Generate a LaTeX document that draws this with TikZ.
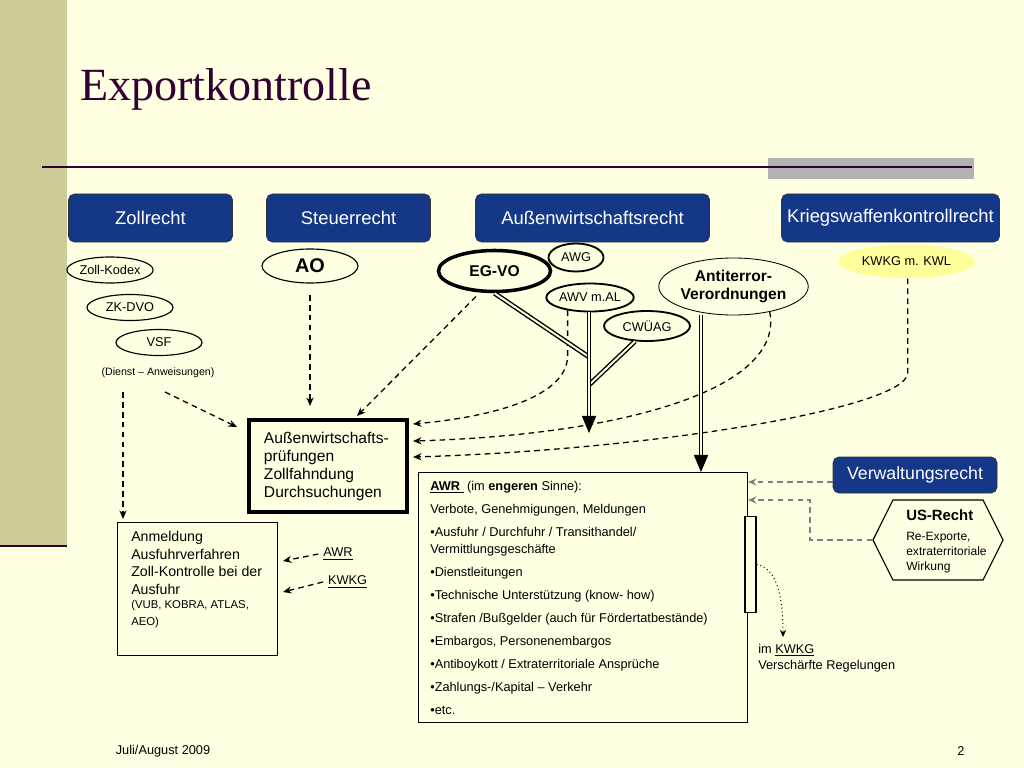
\documentclass[tikz,border=0pt]{standalone}
\usepackage{fontspec}
\setmainfont{Liberation Sans}
\newfontfamily\titlefont{Liberation Serif}
\usetikzlibrary{arrows.meta,calc,shapes.geometric,shapes.symbols}

\definecolor{cream}{RGB}{255,255,225}
\definecolor{stripcol}{RGB}{204,204,153}
\definecolor{titlecol}{RGB}{51,0,51}
\definecolor{hdrblue}{RGB}{20,55,135}
\definecolor{kwyellow}{RGB}{255,255,153}

\newcommand{\pxl}{0.7056pt}
\newcommand{\fsz}[2]{\fontsize{#1}{#2}\selectfont}

\tikzset{
  header/.style={draw=black!80, fill=hdrblue, rounded corners=4pt, text=white,
    font=\fsz{13}{15}, minimum height=48*\pxl, inner sep=0pt},
  law/.style={ellipse, draw, fill=cream, line width=0.8pt, inner sep=0pt, font=\fsz{9}{11}},
  dsh/.style={dash pattern=on 4pt off 3pt, line width=0.9pt, -{Stealth[length=6pt,width=5pt]}},
  gdsh/.style={dsh, draw=gray},
  dbl/.style={double=cream, double distance=1.4pt, line width=1pt},
  bigtip/.style={line width=0.6pt, -{Triangle[length=12pt,width=10pt]}},
  textbox/.style={draw, fill=cream, inner sep=0pt},
}

\begin{document}
\begin{tikzpicture}[x=0.0248cm, y=-0.0248cm]
% slide background
\useasboundingbox (0,0) rectangle (1024,768);
\fill[cream] (0,0) rectangle (1024,768);
\fill[stripcol] (0,0) rectangle (67,545);
\draw[titlecol, line width=1.5pt] (0,546) -- (67,546);
\fill[gray!60] (768,158) rectangle (974,179);
\draw[titlecol, line width=1.6pt] (42,167) -- (972,167);
\node[anchor=west, inner sep=0pt, text=titlecol, font=\titlefont\fsz{32.5}{38}] (title) at (80,89) {Exportkontrolle};

% headers
\node[header, minimum width=164*\pxl] (zoll) at (150.5,218) {Zollrecht};
\node[header, minimum width=164*\pxl] (steuer) at (348.5,218) {Steuerrecht};
\node[header, minimum width=234*\pxl] (awr) at (592.5,218) {Außenwirtschaftsrecht};
\node[header, minimum width=218*\pxl] (kwr) at (890.5,218) {Kriegswaffenkontrollrecht};
\node[header, minimum width=164*\pxl, minimum height=36*\pxl, font=\fsz{12.5}{14}] (verw) at (915,475) {Verwaltungsrecht};

% laws
\node[law, minimum width=86*\pxl, minimum height=26*\pxl] (kodex) at (110,270) {Zoll-Kodex};
\node[law, minimum width=86*\pxl, minimum height=26*\pxl] (zkdvo) at (130,307.5) {ZK-DVO};
\node[law, minimum width=86*\pxl, minimum height=26*\pxl] (vsf) at (159,342.5) {VSF};
\node[font=\fsz{7.5}{9}] (dienst) at (158,373) {(Dienst – Anweisungen)};
\node[law, minimum width=96*\pxl, minimum height=34*\pxl, font=\bfseries\fsz{14}{16}] (ao) at (310,266) {AO};
\node[law, line width=2.5pt, minimum width=112*\pxl, minimum height=41*\pxl, font=\bfseries\fsz{11}{13}] (egvo) at (494.5,271) {EG-VO};
\node[law, line width=1.3pt, minimum width=55*\pxl, minimum height=28*\pxl] (awg) at (576,257.5) {AWG};
\node[law, line width=1.3pt, minimum width=85*\pxl, minimum height=28*\pxl] (awv) at (590,297.5) {AWV m.AL};
\node[law, line width=1.3pt, minimum width=86*\pxl, minimum height=30*\pxl] (cwuag) at (647,326) {CWÜAG};
\node[law, line width=0.6pt, minimum width=139*\pxl, minimum height=57*\pxl, align=center, font=\bfseries\fsz{11}{13.4}] (anti) at (733.5,286.5) {Antiterror-\\Verordnungen};
\node[law, draw=none, fill=kwyellow, minimum width=137*\pxl, minimum height=33*\pxl] (kwkg) at (906.5,261.5) {KWKG m. KWL};

% boxes
\node[textbox, line width=2.8pt, text width=128*\pxl, inner xsep=15*\pxl, minimum height=92*\pxl, align=flush left, font=\fsz{11}{12.7}] (ap) at (328,466)
  {Außenwirtschafts-\\prüfungen\\Zollfahndung\\Durchsuchungen};
\node[textbox, line width=0.7pt, minimum width=160*\pxl, minimum height=133*\pxl, anchor=north west] (anm) at (117,522) {};
\node[anchor=north west, text width=140*\pxl, align=flush left, inner sep=0pt] (anmtxt) at (131,531)
  {\fsz{10}{12.4}Anmeldung\\Ausfuhrverfahren\\Zoll-Kontrolle bei der\\Ausfuhr\par
   \fsz{8}{10.3}(VUB, KOBRA, ATLAS,\\AEO)};
\node[textbox, line width=0.7pt, minimum width=329*\pxl, minimum height=250*\pxl, anchor=north west] (awrbox) at (418,472) {};
\node[anchor=north west, text width=310*\pxl, align=flush left, inner sep=0pt, font=\fsz{9}{16.2}] (awrtxt) at (430,481)
  {\underline{\textbf{AWR}\ }\ (im \textbf{engeren} Sinne):\\
   Verbote, Genehmigungen, Meldungen\\
   •Ausfuhr / Durchfuhr / Transithandel/\\[-4.2pt]
   Vermittlungsgeschäfte\\
   •Dienstleitungen\\
   •Technische Unterstützung (know- how)\\
   •Strafen /Bußgelder (auch für Fördertatbestände)\\
   •Embargos, Personenembargos\\
   •Antiboykott / Extraterritoriale Ansprüche\\
   •Zahlungs-/Kapital – Verkehr\\
   •etc.};
\node[textbox, line width=0.8pt, minimum width=11*\pxl, minimum height=96*\pxl] (bar) at (750.5,564.5) {};
\node[signal, signal to=west and east, signal pointer angle=127, draw, fill=cream, line width=0.8pt,
  minimum width=130*\pxl, minimum height=80*\pxl, inner sep=0pt] (us) at (938,540) {};
\node[anchor=north west, text width=95*\pxl, align=flush left, inner sep=0pt, font=\fsz{8.5}{10.5}] (ustxt) at (906,509)
  {{\fsz{10.5}{10.5}\bfseries US-Recht}\\[4pt]Re-Exporte,\\extraterritoriale\\Wirkung};

% labels
\node[font=\fsz{9}{11}] (lawr) at (338,554) {\underline{AWR}};
\node[font=\fsz{9}{11}] (lkwkg) at (347.5,582) {\underline{KWKG}};
\node[anchor=north west, inner sep=0pt, align=left, font=\fsz{9}{11.2}] (kwnote) at (758,644) {im \underline{KWKG}\\Verschärfte Regelungen};
\node[font=\fsz{9}{11}] (date) at (163,751) {Juli/August 2009};
\node[font=\fsz{9}{11}] (page) at (961,751) {2};

% arrow ends
\coordinate (tipA) at (413,424);
\coordinate (tipB) at (413,441);
\coordinate (tipC) at (413,457);
\coordinate (tipE) at (357,416);
\coordinate (tipO) at (310,406);
\coordinate (zs) at (123,392);
\coordinate (zt) at (123,519);
\coordinate (zd) at (165,392);
\coordinate (zdt) at (237,427);
\coordinate (j1) at (589,357);
\coordinate (j2) at (589,385);
\coordinate (awvtip) at (589,433);
\coordinate (antitip) at (701,472);
\coordinate (gtA) at (748,482);
\coordinate (gtB) at (748,500);
\coordinate (anmA) at (283,561);
\coordinate (anmK) at (283,592);
\coordinate (kwtip) at (783,637);

% dashed references
\draw[dsh, shorten <=8pt] (ao) -- (tipO);
\draw[dsh] (zs) -- (zt);
\draw[dsh] (zd) -- (zdt);
\draw[dsh, shorten <=4pt] (egvo.236) -- (tipE);
\draw[dsh] (awv.210) -- ++(0,45) .. controls +(0,45) and (480,418) .. (tipA);
\draw[dsh] (anti.-35) .. controls (785,390) and (620,435) .. (tipB);
\draw[dsh] (kwkg.-86) -- ++(0,95) .. controls +(-4,35) and (650,450) .. (tipC);

% double lines
\draw[dbl] (egvo.south) -- (j1);
\draw[dbl] (cwuag.232) -- (j2);
\draw[dbl] (awv.south -| awvtip) -- ($(awvtip)+(0,-17)$);
\draw[bigtip] ($(awvtip)+(0,-17)$) -- (awvtip);
\draw[dbl] (anti.242 -| antitip) -- ($(antitip)+(0,-17)$);
\draw[bigtip] ($(antitip)+(0,-17)$) -- (antitip);

% grey references
\draw[gdsh] (verw.west |- gtA) -- (gtA);
\draw[gdsh] (us.west) -| ($(gtB)+(62,0)$) -- (gtB);

% small arrows
\draw[dsh] (lawr.west) -- (anmA);
\draw[dsh] (lkwkg.west) -- (anmK);
\draw[dotted, line width=0.7pt, -{Stealth[length=5pt,width=4.5pt]}] (bar.east) .. controls (778,568) and (783,600) .. (kwtip);
\end{tikzpicture}
\end{document}
